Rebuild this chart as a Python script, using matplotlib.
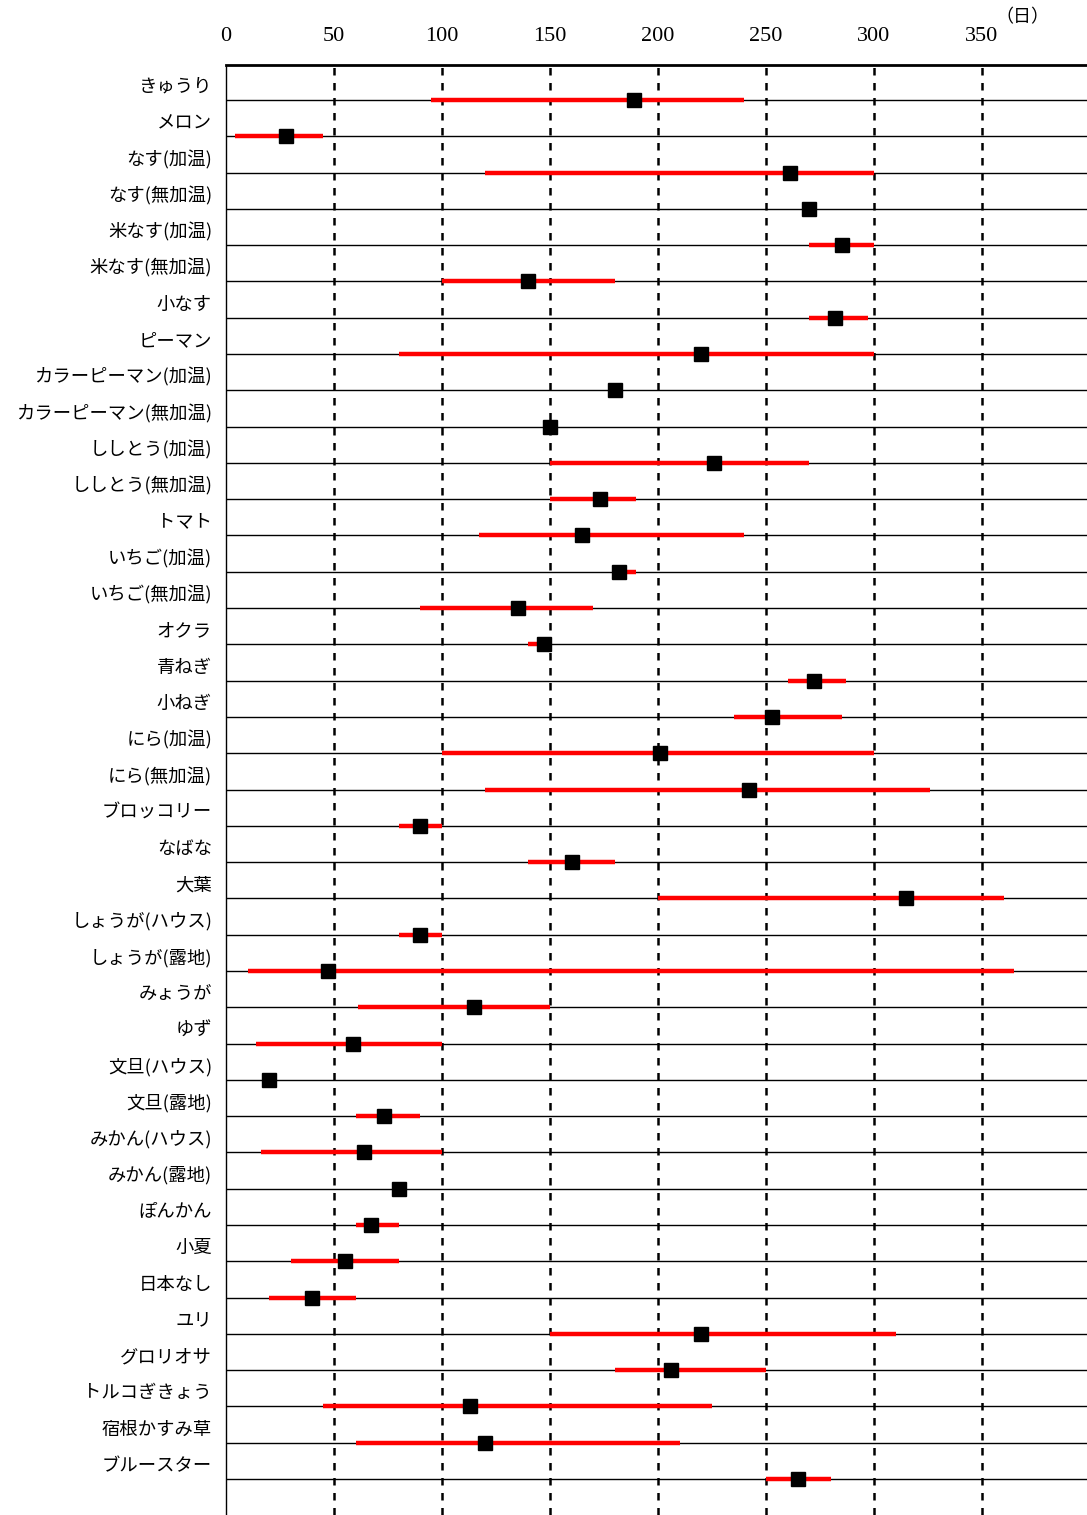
import matplotlib
matplotlib.use("Agg")
import matplotlib.pyplot as plt
import matplotlib.transforms as mtransforms

plt.rcParams['font.family'] = ['Noto Sans CJK JP', 'DejaVu Sans']

# 品目ごとの期間（日）：開始・終了・代表値
crops = ['きゅうり', 'メロン', 'なす(加温)', 'なす(無加温)', '米なす(加温)',
         '米なす(無加温)', '小なす', 'ピーマン', 'カラーピーマン(加温)',
         'カラーピーマン(無加温)', 'ししとう(加温)', 'ししとう(無加温)', 'トマト',
         'いちご(加温)', 'いちご(無加温)', 'オクラ', '青ねぎ', '小ねぎ',
         'にら(加温)', 'にら(無加温)', 'ブロッコリー', 'なばな', '大葉',
         'しょうが(ハウス)', 'しょうが(露地)', 'みょうが', 'ゆず', '文旦(ハウス)',
         '文旦(露地)', 'みかん(ハウス)', 'みかん(露地)', 'ぽんかん', '小夏',
         '日本なし', 'ユリ', 'グロリオサ', 'トルコぎきょう', '宿根かすみ草', 'ブルースター']
low = [95, 4, 120, None, 270, 100, 270, 80, None, None, 150, 150, 117, 180, 90, 140,
       260, 235, 100, 120, 80, 140, 200, 80, 10, 61, 14, None, 60, 16, None, 60, 30,
       20, 150, 180, 45, 60, 250]
high = [240, 45, 300, None, 300, 180, 297, 300, None, None, 270, 190, 240, 190, 170, 148,
        287, 285, 300, 326, 100, 180, 360, 100, 365, 150, 100, None, 90, 100, None, 80, 80,
        60, 310, 250, 225, 210, 280]
mid = [189, 28, 261, 270, 285, 140, 282, 220, 180, 150, 226, 173, 165, 182, 135, 147,
       272, 253, 201, 242, 90, 160, 315, 90, 47, 115, 59, 20, 73, 64, 80, 67, 55,
       40, 220, 206, 113, 120, 265]
xticks = [0, 50, 100, 150, 200, 250, 300, 350]

fig = plt.figure(figsize=(10.87, 15.15), dpi=100)
ax = fig.add_axes([226/1087, 0, 1 - 226/1087, 1 - 65/1515])

n = len(crops)
ys = list(range(n))

# 行の横線
for y in ys:
    ax.axhline(y, color='black', lw=1, zorder=1)

# 縦の補助線
for x in xticks[1:]:
    ax.axvline(x, color='black', lw=1.8, ls=(0, (3, 3)), zorder=1)

for y, lo, hi, m in zip(ys, low, high, mid):
    if lo is not None:
        ax.plot([lo, hi], [y, y], color='red', lw=3.2, solid_capstyle='butt', zorder=2)
    ax.plot(m, y, 's', color='black', ms=9.5, zorder=3)

ax.set_xlim(0, 398.6)
ax.set_ylim(38.99, -0.964)

ax.xaxis.tick_top()
ax.set_xticks(xticks)
ax.set_xticklabels([str(v) for v in xticks], family='Liberation Serif', fontsize=16)
ax.tick_params(axis='x', length=0, pad=14)
ax.set_yticks([])

for s in ['right', 'bottom']:
    ax.spines[s].set_visible(False)
ax.spines['top'].set_linewidth(2)
ax.spines['left'].set_linewidth(1)
ax.spines['left'].set_linestyle((0, (2, 1)))

trans = mtransforms.blended_transform_factory(ax.transAxes, ax.transData)
for y, name in zip(ys, crops):
    ax.text(-14/861, y - 0.36, name, transform=trans, ha='right', va='center', fontsize=13.2)

fig.text(1022/1087, 1 - 17/1515, '（日）', ha='center', va='center', fontsize=13)

fig.savefig('out.png', dpi=100)
